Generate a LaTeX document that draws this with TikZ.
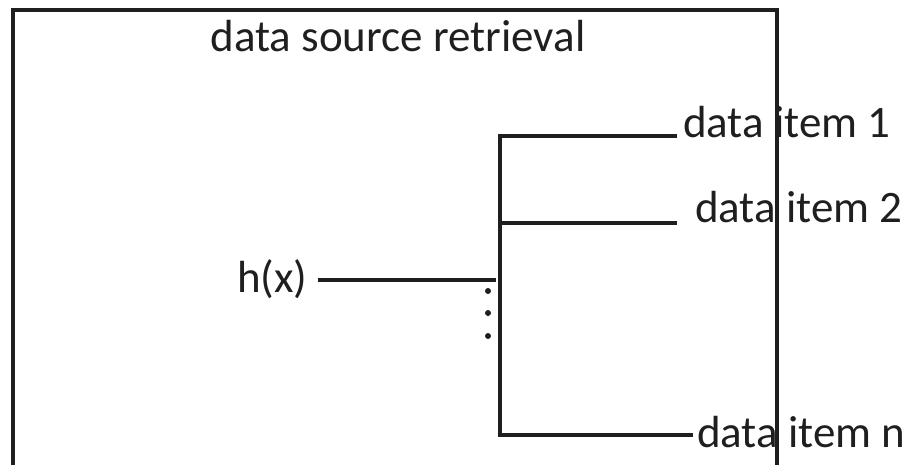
\documentclass[tikz,border=0pt]{standalone}
\usepackage{fontspec}
\setmainfont{Carlito}
\begin{document}
\begin{tikzpicture}[x=1pt,y=-1pt,
  wire/.style={line width=3.2pt,color=black!88},
  lbl/.style={inner sep=0pt,font=\fontsize{45}{48}\selectfont,text=black!88},
  dotmark/.style={circle,fill=black!88,inner sep=0pt,minimum size=6pt}]
  \useasboundingbox (0,0) rectangle (908,465);
  % labels
  \node[lbl,anchor=base] (title) at (398,52) {data source retrieval};
  \node[lbl,anchor=base west] (hx) at (237,293) {h(x)};
  \node[lbl,anchor=base west] (i1) at (683,138) {data item 1};
  \node[lbl,anchor=base west] (i2) at (695,223) {data item 2};
  \node[lbl,anchor=base west] (in) at (697,447) {data item n};
  % bus and branch points
  \coordinate (btop) at (500,134);
  \coordinate (bbot) at (500,437);
  \coordinate (b1) at (500,136);
  \coordinate (b2) at (500,223);
  \coordinate (bn) at (500,435);
  \coordinate (e1) at (677,136);
  \coordinate (e2) at (677,223);
  \coordinate (en) at (693,435);
  \coordinate (hs) at (318,280);
  \coordinate (he) at (496,280);
  \draw[wire] (btop) -- (bbot);
  \draw[wire] (b1) -- (e1);
  \draw[wire] (b2) -- (e2);
  \draw[wire] (bn) -- (en);
  \draw[wire] (hs) -- (he);
  % vertical ellipsis
  \node[dotmark] (d1) at (488,291) {};
  \node[dotmark] (d2) at (488,313) {};
  \node[dotmark] (d3) at (488,336) {};
  % enclosing frame, open at the bottom
  \draw[wire] (13,465) -- (13,10) -- (777,10) -- (777,465);
\end{tikzpicture}
\end{document}
